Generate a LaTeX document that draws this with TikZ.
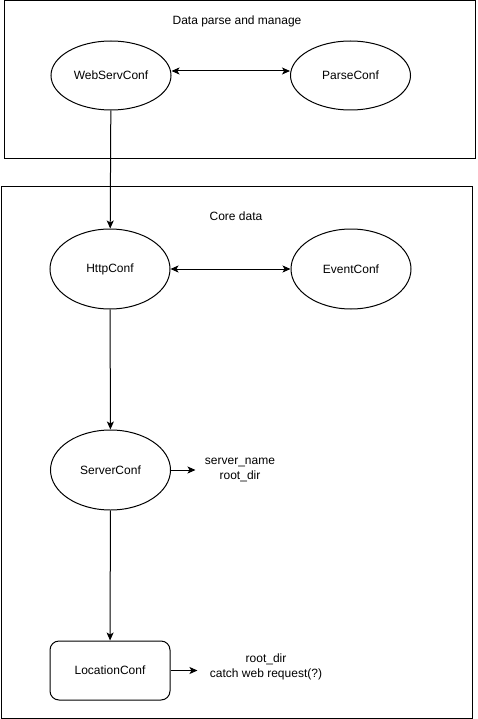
\documentclass[tikz,border=0pt]{standalone}
\usepackage{fontspec}
\setmainfont{Liberation Sans}
\usetikzlibrary{arrows.meta,shapes.geometric}
\begin{document}
\begin{tikzpicture}[x=1pt,y=-1pt,
  line width=1pt,
  font=\fontsize{12}{14}\selectfont,
  every node/.style={inner sep=0pt},
  group/.style={draw,line width=1pt},
  conf/.style={draw,ellipse,minimum width=120pt,minimum height=80pt},
  confflat/.style={conf,minimum height=69pt},
  locbox/.style={draw,rounded corners=9pt,minimum width=120pt,minimum height=59pt},
  note/.style={align=center,font=\fontsize{12}{14.5}\selectfont},
  tip/.style={-{Stealth[length=8pt,width=7pt,inset=2pt]}},
  bitip/.style={{Stealth[length=8pt,width=7pt,inset=2pt]}-{Stealth[length=8pt,width=7pt,inset=2pt]}}]
  % page
  \fill[white] (0,0) rectangle (477,719);
  \useasboundingbox (0,0) rectangle (477,719);

  % group frames
  \draw[group] (4.5,1) rectangle (475.5,159);
  \draw[group] (1,187) rectangle (472,718);
  \node (t1) at (237,21) {Data parse and manage};
  \node (t2) at (236,216) {Core data};

  % configuration nodes
  \node[confflat] (web)   at (111,75.5) {WebServConf};
  \node[confflat] (parse) at (350.5,75.5) {ParseConf};
  \node[conf] (http)  at (110,269) {HttpConf};
  \node[conf] (event) at (351,269) {EventConf};
  \node[conf] (srv)   at (110.5,470) {ServerConf};
  \node[locbox] (loc) at (110,670.5) {LocationConf};

  % side notes
  \node[note] (srvnote) at (240,470) {server\_name\\root\_dir};
  \node[note] (locnote) at (266,667) {root\_dir\\catch web request(?)};

  % connectors
  \draw[bitip] (web.east |- 0,71) -- (parse.west |- 0,71);
  \draw[bitip] (http) -- (event);
  \draw[tip] (web) -- (http);
  \draw[tip] (http) -- (srv);
  \draw[tip] (srv) -- (loc);
  \draw[tip,shorten >=9pt] (srv.east) -- (srvnote.west |- srv.east);
  \draw[tip,shorten >=12pt] (loc.east) -- (locnote.west |- loc.east);
\end{tikzpicture}
\end{document}
